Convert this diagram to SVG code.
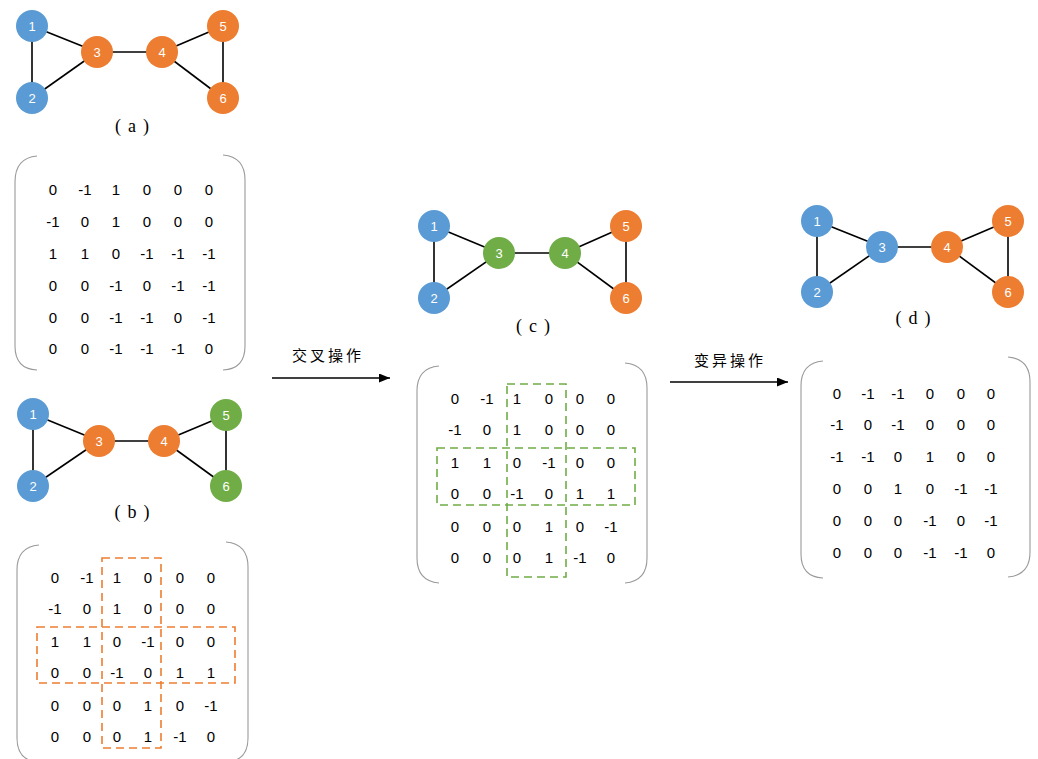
<svg xmlns="http://www.w3.org/2000/svg" width="1038" height="759" viewBox="0 0 1038 759">
<defs>
<style>
.e{stroke:#000;stroke-width:1.6;fill:none}
.b{fill:#5B9BD5}.o{fill:#ED7D31}.g{fill:#70AD47}
.nl{font-family:"Liberation Sans","DejaVu Sans",sans-serif;font-size:13px;fill:#fff;text-anchor:middle}
.cap{font-family:"Liberation Serif","DejaVu Serif",serif;font-size:18px;fill:#000;text-anchor:middle}
.m{font-family:"Liberation Sans","DejaVu Sans",sans-serif;font-size:15px;fill:#000;text-anchor:middle}
.br{stroke:#9a9a9a;stroke-width:1.1;fill:none}
.dor{stroke:#ED7D31;stroke-width:1.6;fill:none;stroke-dasharray:8 5}
.dgr{stroke:#70AD47;stroke-width:1.6;fill:none;stroke-dasharray:8 5}
.ar{stroke:#000;stroke-width:1.6;fill:none;marker-end:url(#ah)}
.op{font-family:"Noto Sans CJK SC",sans-serif;font-size:15px;fill:#000;text-anchor:middle;letter-spacing:3px}
</style>
<marker id="ah" viewBox="0 0 10 10" refX="10" refY="5" markerWidth="11" markerHeight="9" markerUnits="userSpaceOnUse" orient="auto" preserveAspectRatio="none">
<path d="M0,0 L10,5 L0,10 z" fill="#000"/>
</marker>
</defs>
<rect width="1038" height="759" fill="#fff"/>

<g id="connectors">
<line class="e" x1="32" y1="26" x2="32" y2="98"/>
<line class="e" x1="32" y1="26" x2="97" y2="52"/>
<line class="e" x1="32" y1="98" x2="97" y2="52"/>
<line class="e" x1="97" y1="52" x2="162" y2="52"/>
<line class="e" x1="162" y1="52" x2="223" y2="26"/>
<line class="e" x1="162" y1="52" x2="223" y2="98"/>
<line class="e" x1="223" y1="26" x2="223" y2="98"/>
<line class="e" x1="33" y1="414" x2="33" y2="486"/>
<line class="e" x1="33" y1="414" x2="99" y2="441"/>
<line class="e" x1="33" y1="486" x2="99" y2="441"/>
<line class="e" x1="99" y1="441" x2="164" y2="441"/>
<line class="e" x1="164" y1="441" x2="226" y2="415"/>
<line class="e" x1="164" y1="441" x2="226" y2="486"/>
<line class="e" x1="226" y1="415" x2="226" y2="486"/>
<line class="e" x1="434" y1="226" x2="434" y2="298"/>
<line class="e" x1="434" y1="226" x2="499" y2="253"/>
<line class="e" x1="434" y1="298" x2="499" y2="253"/>
<line class="e" x1="499" y1="253" x2="565" y2="253"/>
<line class="e" x1="565" y1="253" x2="626" y2="226"/>
<line class="e" x1="565" y1="253" x2="626" y2="298"/>
<line class="e" x1="626" y1="226" x2="626" y2="298"/>
<line class="e" x1="817" y1="221" x2="817" y2="292"/>
<line class="e" x1="817" y1="221" x2="882" y2="247"/>
<line class="e" x1="817" y1="292" x2="882" y2="247"/>
<line class="e" x1="882" y1="247" x2="947" y2="247"/>
<line class="e" x1="947" y1="247" x2="1008" y2="221"/>
<line class="e" x1="947" y1="247" x2="1008" y2="292"/>
<line class="e" x1="1008" y1="221" x2="1008" y2="292"/>
<line class="ar" x1="272" y1="378" x2="390" y2="378"/>
<line class="ar" x1="670" y1="382" x2="788" y2="382"/>
</g>

<g id="a1"><circle class="b" cx="32" cy="26" r="16"/><text class="nl" x="32" y="30.5">1</text></g>
<g id="a2"><circle class="b" cx="32" cy="98" r="16"/><text class="nl" x="32" y="102.5">2</text></g>
<g id="a3"><circle class="o" cx="97" cy="52" r="16"/><text class="nl" x="97" y="56.5">3</text></g>
<g id="a4"><circle class="o" cx="162" cy="52" r="16"/><text class="nl" x="162" y="56.5">4</text></g>
<g id="a5"><circle class="o" cx="223" cy="26" r="16"/><text class="nl" x="223" y="30.5">5</text></g>
<g id="a6"><circle class="o" cx="223" cy="98" r="16"/><text class="nl" x="223" y="102.5">6</text></g>
<g id="cap-a"><text class="cap" x="132" y="132">(<tspan dx="7">a</tspan><tspan dx="7">)</tspan></text></g>

<g id="b1"><circle class="b" cx="33" cy="414" r="16"/><text class="nl" x="33" y="418.5">1</text></g>
<g id="b2"><circle class="b" cx="33" cy="486" r="16"/><text class="nl" x="33" y="490.5">2</text></g>
<g id="b3"><circle class="o" cx="99" cy="441" r="16"/><text class="nl" x="99" y="445.5">3</text></g>
<g id="b4"><circle class="o" cx="164" cy="441" r="16"/><text class="nl" x="164" y="445.5">4</text></g>
<g id="b5"><circle class="g" cx="226" cy="415" r="16"/><text class="nl" x="226" y="419.5">5</text></g>
<g id="b6"><circle class="g" cx="226" cy="486" r="16"/><text class="nl" x="226" y="490.5">6</text></g>
<g id="cap-b"><text class="cap" x="132" y="518">(<tspan dx="7">b</tspan><tspan dx="7">)</tspan></text></g>

<g id="c1"><circle class="b" cx="434" cy="226" r="16"/><text class="nl" x="434" y="230.5">1</text></g>
<g id="c2"><circle class="b" cx="434" cy="298" r="16"/><text class="nl" x="434" y="302.5">2</text></g>
<g id="c3"><circle class="g" cx="499" cy="253" r="16"/><text class="nl" x="499" y="257.5">3</text></g>
<g id="c4"><circle class="g" cx="565" cy="253" r="16"/><text class="nl" x="565" y="257.5">4</text></g>
<g id="c5"><circle class="o" cx="626" cy="226" r="16"/><text class="nl" x="626" y="230.5">5</text></g>
<g id="c6"><circle class="o" cx="626" cy="298" r="16"/><text class="nl" x="626" y="302.5">6</text></g>
<g id="cap-c"><text class="cap" x="533" y="332">(<tspan dx="7">c</tspan><tspan dx="7">)</tspan></text></g>

<g id="d1"><circle class="b" cx="817" cy="221" r="16"/><text class="nl" x="817" y="225.5">1</text></g>
<g id="d2"><circle class="b" cx="817" cy="292" r="16"/><text class="nl" x="817" y="296.5">2</text></g>
<g id="d3"><circle class="b" cx="882" cy="247" r="16"/><text class="nl" x="882" y="251.5">3</text></g>
<g id="d4"><circle class="o" cx="947" cy="247" r="16"/><text class="nl" x="947" y="251.5">4</text></g>
<g id="d5"><circle class="o" cx="1008" cy="221" r="16"/><text class="nl" x="1008" y="225.5">5</text></g>
<g id="d6"><circle class="o" cx="1008" cy="292" r="16"/><text class="nl" x="1008" y="296.5">6</text></g>
<g id="cap-d"><text class="cap" x="913" y="324">(<tspan dx="7">d</tspan><tspan dx="7">)</tspan></text></g>

<g id="op1"><text class="op" x="328" y="361">交叉操作</text></g>
<g id="op2"><text class="op" x="730" y="366">变异操作</text></g>

<g id="matrix-a">
<path class="br" d="M37,156 Q15,158 15,182 V346 Q15,369 37,370"/>
<path class="br" d="M223,155 Q245,157 245,180 V346 Q245,369 223,370"/>
<text class="m" y="194.5"><tspan x="53">0</tspan><tspan x="85">-1</tspan><tspan x="116">1</tspan><tspan x="147">0</tspan><tspan x="178">0</tspan><tspan x="209">0</tspan></text>
<text class="m" y="226.5"><tspan x="53">-1</tspan><tspan x="85">0</tspan><tspan x="116">1</tspan><tspan x="147">0</tspan><tspan x="178">0</tspan><tspan x="209">0</tspan></text>
<text class="m" y="258.5"><tspan x="53">1</tspan><tspan x="85">1</tspan><tspan x="116">0</tspan><tspan x="147">-1</tspan><tspan x="178">-1</tspan><tspan x="209">-1</tspan></text>
<text class="m" y="290.5"><tspan x="53">0</tspan><tspan x="85">0</tspan><tspan x="116">-1</tspan><tspan x="147">0</tspan><tspan x="178">-1</tspan><tspan x="209">-1</tspan></text>
<text class="m" y="322.5"><tspan x="53">0</tspan><tspan x="85">0</tspan><tspan x="116">-1</tspan><tspan x="147">-1</tspan><tspan x="178">0</tspan><tspan x="209">-1</tspan></text>
<text class="m" y="353.5"><tspan x="53">0</tspan><tspan x="85">0</tspan><tspan x="116">-1</tspan><tspan x="147">-1</tspan><tspan x="178">-1</tspan><tspan x="209">0</tspan></text>
</g>

<g id="matrix-b">
<path class="br" d="M39,545 Q17,547 17,570 V738 Q17,761 39,762"/>
<path class="br" d="M226,542 Q248,544 248,567 V738 Q248,761 226,762"/>
<rect class="dor" x="102" y="558" width="59" height="190"/>
<rect class="dor" x="37" y="627" width="198" height="56"/>
<text class="m" y="582.5"><tspan x="55">0</tspan><tspan x="87">-1</tspan><tspan x="117">1</tspan><tspan x="148">0</tspan><tspan x="180">0</tspan><tspan x="211">0</tspan></text>
<text class="m" y="613.5"><tspan x="55">-1</tspan><tspan x="87">0</tspan><tspan x="117">1</tspan><tspan x="148">0</tspan><tspan x="180">0</tspan><tspan x="211">0</tspan></text>
<text class="m" y="646.5"><tspan x="55">1</tspan><tspan x="87">1</tspan><tspan x="117">0</tspan><tspan x="148">-1</tspan><tspan x="180">0</tspan><tspan x="211">0</tspan></text>
<text class="m" y="677.5"><tspan x="55">0</tspan><tspan x="87">0</tspan><tspan x="117">-1</tspan><tspan x="148">0</tspan><tspan x="180">1</tspan><tspan x="211">1</tspan></text>
<text class="m" y="710.5"><tspan x="55">0</tspan><tspan x="87">0</tspan><tspan x="117">0</tspan><tspan x="148">1</tspan><tspan x="180">0</tspan><tspan x="211">-1</tspan></text>
<text class="m" y="741.5"><tspan x="55">0</tspan><tspan x="87">0</tspan><tspan x="117">0</tspan><tspan x="148">1</tspan><tspan x="180">-1</tspan><tspan x="211">0</tspan></text>
</g>

<g id="matrix-c">
<path class="br" d="M439,366 Q417,368 417,391 V558 Q417,581 439,583"/>
<path class="br" d="M625,363 Q647,365 647,388 V558 Q647,581 625,583"/>
<rect class="dgr" x="507" y="384" width="59" height="193"/>
<rect class="dgr" x="437" y="448" width="198" height="57"/>
<text class="m" y="403.5"><tspan x="455">0</tspan><tspan x="487">-1</tspan><tspan x="517">1</tspan><tspan x="549">0</tspan><tspan x="580">0</tspan><tspan x="611">0</tspan></text>
<text class="m" y="434.5"><tspan x="455">-1</tspan><tspan x="487">0</tspan><tspan x="517">1</tspan><tspan x="549">0</tspan><tspan x="580">0</tspan><tspan x="611">0</tspan></text>
<text class="m" y="467.5"><tspan x="455">1</tspan><tspan x="487">1</tspan><tspan x="517">0</tspan><tspan x="549">-1</tspan><tspan x="580">0</tspan><tspan x="611">0</tspan></text>
<text class="m" y="498.5"><tspan x="455">0</tspan><tspan x="487">0</tspan><tspan x="517">-1</tspan><tspan x="549">0</tspan><tspan x="580">1</tspan><tspan x="611">1</tspan></text>
<text class="m" y="531.5"><tspan x="455">0</tspan><tspan x="487">0</tspan><tspan x="517">0</tspan><tspan x="549">1</tspan><tspan x="580">0</tspan><tspan x="611">-1</tspan></text>
<text class="m" y="562.5"><tspan x="455">0</tspan><tspan x="487">0</tspan><tspan x="517">0</tspan><tspan x="549">1</tspan><tspan x="580">-1</tspan><tspan x="611">0</tspan></text>
</g>

<g id="matrix-d">
<path class="br" d="M823,361 Q801,363 801,386 V554 Q801,577 823,578"/>
<path class="br" d="M1008,357 Q1030,359 1030,382 V552 Q1030,575 1008,577"/>
<text class="m" y="398.5"><tspan x="837">0</tspan><tspan x="868">-1</tspan><tspan x="898">-1</tspan><tspan x="930">0</tspan><tspan x="961">0</tspan><tspan x="991">0</tspan></text>
<text class="m" y="429.5"><tspan x="837">-1</tspan><tspan x="868">0</tspan><tspan x="898">-1</tspan><tspan x="930">0</tspan><tspan x="961">0</tspan><tspan x="991">0</tspan></text>
<text class="m" y="461.5"><tspan x="837">-1</tspan><tspan x="868">-1</tspan><tspan x="898">0</tspan><tspan x="930">1</tspan><tspan x="961">0</tspan><tspan x="991">0</tspan></text>
<text class="m" y="493.5"><tspan x="837">0</tspan><tspan x="868">0</tspan><tspan x="898">1</tspan><tspan x="930">0</tspan><tspan x="961">-1</tspan><tspan x="991">-1</tspan></text>
<text class="m" y="525.5"><tspan x="837">0</tspan><tspan x="868">0</tspan><tspan x="898">0</tspan><tspan x="930">-1</tspan><tspan x="961">0</tspan><tspan x="991">-1</tspan></text>
<text class="m" y="557.5"><tspan x="837">0</tspan><tspan x="868">0</tspan><tspan x="898">0</tspan><tspan x="930">-1</tspan><tspan x="961">-1</tspan><tspan x="991">0</tspan></text>
</g>
</svg>
